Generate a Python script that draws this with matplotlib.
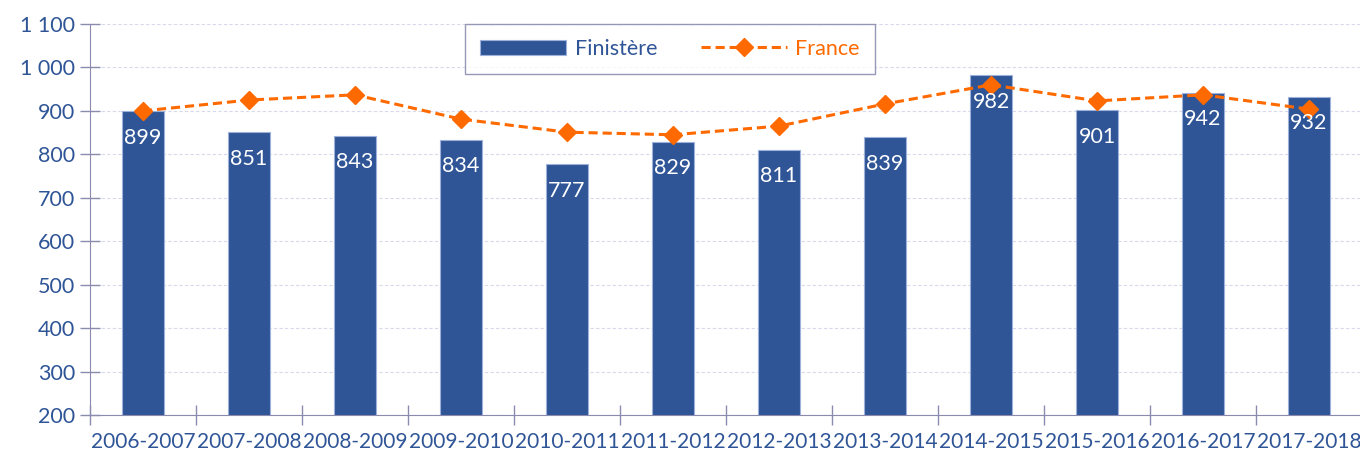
import matplotlib.pyplot as plt
import numpy as np
from matplotlib.ticker import FuncFormatter, FixedLocator

years = ['2006-2007', '2007-2008', '2008-2009', '2009-2010', '2010-2011', '2011-2012',
         '2012-2013', '2013-2014', '2014-2015', '2015-2016', '2016-2017', '2017-2018']
finistere = [899, 851, 843, 834, 777, 829, 811, 839, 982, 901, 942, 932]
france = [900, 925, 937, 881, 851, 845, 865, 916, 960, 923, 937, 904]

blue = '#2F5597'
orange = '#FF6A00'
axis_col = '#8B8BB0'

plt.rcParams['font.family'] = ['Lato', 'DejaVu Sans']

fig = plt.figure(figsize=(13.6, 4.57), dpi=100)
ax = fig.add_axes([90/1360, 42/457, 1272/1360, (415-24)/457])

x = np.arange(len(years))
bars = ax.bar(x, finistere, width=0.4, color=blue, edgecolor='#9DB1DA', linewidth=0.8,
              label='Finistère', zorder=2)
line, = ax.plot(x, france, color=orange, linestyle=(0, (3, 1.6)), linewidth=2.2, marker='D',
                markersize=9, label='France', zorder=3)

for xi, v in zip(x, finistere):
    ax.annotate(str(v), (xi, v), xytext=(0, -19), textcoords='offset points',
                ha='center', va='center', color='white', fontsize=15.5, zorder=4)

ax.set_xlim(-0.5, len(years) - 0.5)
ax.set_ylim(200, 1100)
ax.set_yticks(np.arange(200, 1101, 100))
ax.yaxis.set_major_formatter(FuncFormatter(lambda v, p: f'{int(v):,}'.replace(',', ' ')))
ax.set_xticks(x)
ax.set_xticklabels(years)
ax.xaxis.set_minor_locator(FixedLocator(np.arange(-0.5, len(years), 1)))
ax.tick_params(axis='x', which='major', length=0, pad=12, labelsize=15, labelcolor=blue)
ax.tick_params(axis='x', which='minor', length=15, direction='inout', color=axis_col, width=1)
ax.tick_params(axis='y', length=15, direction='inout', color=axis_col, width=1,
               labelsize=15.5, labelcolor=blue, pad=3)

ax.grid(axis='y', color='#D9D9EC', linestyle=(0, (3, 2)), linewidth=0.8, zorder=0)
ax.set_axisbelow(True)
for s in ['top', 'right']:
    ax.spines[s].set_visible(False)
ax.spines['left'].set_color(axis_col)
ax.spines['bottom'].set_color(axis_col)

leg = ax.legend([bars, line], ['Finistère', 'France'], loc='center',
                bbox_to_anchor=((670-90)/1272, (415-49)/391), ncol=2,
                fontsize=15.5, frameon=True, fancybox=False, borderpad=0.7,
                handlelength=4.0, columnspacing=2.0, handletextpad=0.4,
                borderaxespad=0)
leg.get_frame().set_edgecolor('#7F7FA8')
leg.get_frame().set_linewidth(1)
for t, c in zip(leg.get_texts(), [blue, orange]):
    t.set_color(c)

fig.savefig('out.png', dpi=100)
